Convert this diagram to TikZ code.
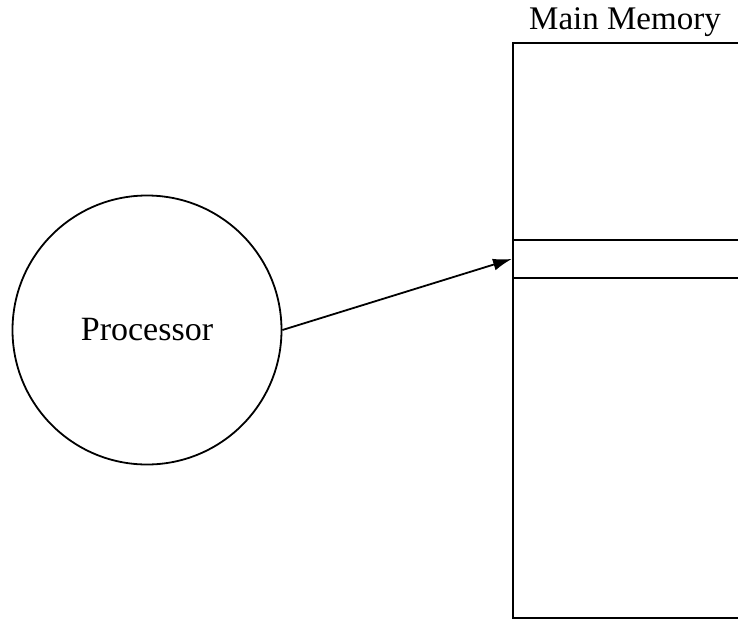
\documentclass[tikz,border=0pt]{standalone}
\usepackage{fontspec}
\setmainfont{Liberation Serif}
\usetikzlibrary{arrows.meta}
\begin{document}
\begin{tikzpicture}[x=1pt,y=-1pt,
  box/.style={draw=black,line width=1.8pt,inner sep=0pt,anchor=north west},
  lbl/.style={font=\fontsize{33}{36}\selectfont},
  conn/.style={draw=black,line width=1.8pt,-{Latex[length=19pt,width=12pt]}}]
\useasboundingbox (0,0) rectangle (738,618);
\clip (0,0) rectangle (738,618);
\node[draw=black,line width=1.8pt,circle,minimum size=269pt,inner sep=0pt,font=\fontsize{34}{36}\selectfont] (proc) at (147,330) {Processor};
\node[box,minimum width=240pt,minimum height=575pt] (mem) at (512,42) {};
\node[box,minimum width=240pt,minimum height=38pt] (slot) at (512,239) {};
\node[lbl,anchor=base] (memlbl) at (625,30) {Main Memory};
\draw[conn] (proc.east) -- (slot.west);
\end{tikzpicture}
\end{document}
